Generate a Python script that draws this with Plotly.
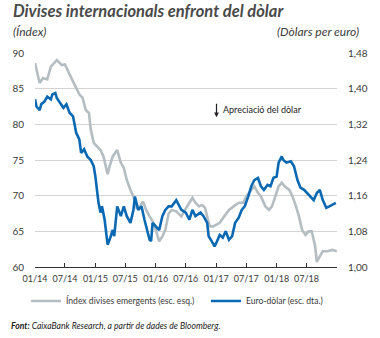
import plotly.graph_objects as go

em_dates = ["2014-01-01","2014-01-29","2014-02-18","2014-03-16","2014-04-07","2014-05-13","2014-06-12","2014-07-01",
"2014-07-29","2014-08-19","2014-09-07","2014-09-26","2014-10-16","2014-11-04","2014-11-23","2014-12-04","2014-12-22",
"2015-01-10","2015-02-01","2015-02-19","2015-03-07","2015-03-16","2015-03-28","2015-04-16","2015-05-13","2015-06-04",
"2015-06-22","2015-07-10","2015-08-01","2015-08-19","2015-09-07","2015-09-28","2015-10-16","2015-11-04","2015-11-25",
"2015-12-13","2016-01-01","2016-01-22","2016-02-10","2016-02-28","2016-03-19","2016-04-07","2016-05-04","2016-06-04",
"2016-07-01","2016-08-10","2016-08-28","2016-09-19","2016-10-07","2016-10-25","2016-11-16","2016-11-25","2016-12-13",
"2017-01-01","2017-01-22","2017-02-18","2017-03-19","2017-04-16","2017-05-16","2017-06-13","2017-07-01","2017-08-01",
"2017-08-19","2017-09-10","2017-09-28","2017-10-25","2017-11-16","2017-12-04","2017-12-22","2018-01-13","2018-02-01",
"2018-02-19","2018-03-19","2018-04-07","2018-04-28","2018-05-16","2018-06-04","2018-06-25","2018-07-13","2018-08-01",
"2018-08-22","2018-09-01","2018-09-19","2018-10-07","2018-11-04","2018-12-04","2018-12-31"]
em_index = [88.6,85.8,86.5,86.3,88.1,89.0,88.3,88.4,
87.0,86.0,84.9,84.2,83.7,82.0,81.6,79.3,77.4,
76.9,76.4,75.5,73.6,73.0,74.1,75.5,76.4,74.6,
73.9,72.2,70.8,69.9,68.3,68.5,69.2,68.0,67.1,
66.4,65.2,63.6,64.3,65.2,67.5,68.0,67.8,67.1,
68.2,69.7,69.0,68.5,68.7,68.3,66.2,65.7,65.7,
65.9,66.2,67.1,68.0,68.5,69.0,69.0,69.9,70.8,
71.3,70.4,69.9,68.5,68.0,68.5,69.9,71.3,71.8,
71.3,70.8,69.9,68.5,67.1,65.2,64.5,65.0,65.0,
62.9,60.7,61.5,62.2,62.2,62.4,62.2]

eur_dates = ["2014-01-01","2014-01-10","2014-01-29","2014-02-08","2014-02-27","2014-03-16","2014-04-07","2014-04-16",
"2014-05-04","2014-05-13","2014-06-02","2014-06-22","2014-07-10","2014-07-29","2014-08-19","2014-09-07","2014-09-26",
"2014-10-07","2014-10-25","2014-11-13","2014-12-04","2014-12-22","2015-01-01","2015-01-10","2015-01-20","2015-02-01",
"2015-02-10","2015-02-26","2015-03-07","2015-03-16","2015-03-28","2015-04-16","2015-04-25","2015-05-13","2015-06-04",
"2015-06-22","2015-07-10","2015-08-01","2015-08-19","2015-08-28","2015-09-17","2015-10-07","2015-10-25","2015-11-04",
"2015-11-25","2015-12-04","2015-12-13","2016-01-01","2016-01-22","2016-02-10","2016-02-28","2016-03-19","2016-04-07",
"2016-05-04","2016-06-04","2016-07-01","2016-07-22","2016-08-10","2016-08-28","2016-09-28","2016-10-16","2016-11-07",
"2016-11-16","2016-12-04","2016-12-22","2017-01-01","2017-01-22","2017-02-09","2017-02-27","2017-03-19","2017-04-07",
"2017-04-25","2017-05-16","2017-06-04","2017-06-22","2017-07-13","2017-08-01","2017-08-19","2017-09-10","2017-09-28",
"2017-10-16","2017-11-07","2017-11-25","2017-12-13","2018-01-01","2018-01-13","2018-02-01","2018-02-10","2018-03-01",
"2018-03-28","2018-04-16","2018-05-07","2018-05-25","2018-06-16","2018-07-04","2018-07-22","2018-08-13","2018-09-01",
"2018-09-19","2018-10-07","2018-10-28","2018-11-16","2018-12-04","2018-12-25"]
eur_usd = [1.376,1.360,1.352,1.365,1.371,1.382,1.376,1.387,
1.390,1.379,1.368,1.357,1.365,1.346,1.338,1.301,1.286,
1.256,1.264,1.248,1.240,1.226,1.203,1.173,1.144,1.122,
1.136,1.106,1.069,1.050,1.061,1.083,1.069,1.136,1.114,
1.136,1.114,1.099,1.128,1.158,1.128,1.136,1.106,1.091,
1.061,1.058,1.099,1.091,1.083,1.114,1.128,1.136,1.136,
1.150,1.128,1.122,1.106,1.128,1.114,1.122,1.114,1.099,
1.069,1.058,1.046,1.054,1.072,1.066,1.080,1.061,1.069,
1.099,1.110,1.128,1.136,1.158,1.181,1.195,1.200,1.181,
1.173,1.184,1.181,1.200,1.203,1.234,1.248,1.240,1.234,
1.237,1.226,1.195,1.178,1.173,1.166,1.158,1.150,1.166,
1.173,1.150,1.133,1.136,1.139,1.144]

x_ticks = ["2014-01-01","2014-07-01","2015-01-01","2015-07-01","2016-01-01","2016-07-01",
           "2017-01-01","2017-07-01","2018-01-01","2018-07-01","2019-01-01"]
x_labels = ["01/14","07/14","01/15","07/15","01/16","07/16","01/17","07/17","01/18","07/18",""]
left_ticks = [60, 65, 70, 75, 80, 85, 90]
right_ticks = [1.00, 1.08, 1.16, 1.24, 1.32, 1.40, 1.48]
right_labels = ["1,00","1,08","1,16","1,24","1,32","1,40","1,48"]

GRAY = "#b4bdc2"
BLUE = "#0a69b2"
TXT = "#3a3a3a"
FONT = "Lato"

fig = go.Figure()
fig.add_trace(go.Scatter(x=em_dates, y=em_index, mode="lines", name="Índex divises emergents (esc. esq.)",
                         line=dict(color=GRAY, width=2.6), yaxis="y", legend="legend"))
fig.add_trace(go.Scatter(x=eur_dates, y=eur_usd, mode="lines", name="Euro-dòlar (esc. dta.)",
                         line=dict(color=BLUE, width=2.6), yaxis="y2", legend="legend2"))

leg_common = dict(orientation="h", y=-0.159, xanchor="left", yanchor="middle",
                  font=dict(size=8.6, color=TXT), itemwidth=30, bgcolor="rgba(0,0,0,0)")

fig.update_layout(
    width=380, height=338,
    margin=dict(l=32, r=32, t=53, b=71),
    paper_bgcolor="white", plot_bgcolor="white",
    font=dict(family=FONT, size=10, color=TXT),
    showlegend=True,
    legend=dict(x=-0.03, **leg_common),
    legend2=dict(x=0.566, **leg_common),
    xaxis=dict(type="date", range=["2014-01-01", "2019-01-01"], tickvals=x_ticks, ticktext=x_labels,
               showgrid=False, showline=True, linecolor="#333333", linewidth=1,
               ticks="inside", ticklen=4, tickcolor="#333333", tickfont=dict(size=9, color=TXT),
               ticklabelstandoff=3, zeroline=False, fixedrange=True),
    yaxis=dict(range=[60, 90], tickvals=left_ticks, showgrid=True, gridcolor="#d4d4d4", gridwidth=1,
               zeroline=False, showline=False, ticks="", tickfont=dict(size=10, color=TXT),
               ticklabelstandoff=10),
    yaxis2=dict(range=[1.00, 1.48], tickvals=right_ticks, ticktext=right_labels, overlaying="y", side="right",
                showgrid=False, zeroline=False, showline=False, ticks="", tickfont=dict(size=10, color=TXT),
                ticklabelstandoff=10),
    annotations=[
        dict(text="<b><i>Divises internacionals enfront del dòlar</i></b>", xref="paper", yref="paper",
             x=-0.078, y=1.194, xanchor="left", yanchor="middle", showarrow=False,
             font=dict(size=16.5, color="#4a4a4a", family=FONT)),
        dict(text="<i>(Índex)</i>", xref="paper", yref="paper", x=-0.08, y=1.1, xanchor="left",
             yanchor="middle", showarrow=False, font=dict(size=12, color=TXT)),
        dict(text="<i>(Dòlars per euro)</i>", xref="paper", yref="paper", x=1.079, y=1.1, xanchor="right",
             yanchor="middle", showarrow=False, font=dict(size=12, color=TXT)),
        dict(text="", xref="paper", yref="paper", x=0.601, y=0.70, ax=0, ay=-15, showarrow=True,
             arrowhead=2, arrowsize=0.8, arrowwidth=1.2, arrowcolor="#222222"),
        dict(text="Apreciació del dòlar", xref="paper", yref="paper", x=0.617, y=0.734, xanchor="left",
             yanchor="middle", showarrow=False, font=dict(size=9, color="#222222")),
        dict(text="<b><i>Font:</i></b><i> CaixaBank Research, a partir de dades de Bloomberg.</i>",
             xref="paper", yref="paper", x=-0.085, y=-0.276, xanchor="left", yanchor="middle",
             showarrow=False, font=dict(size=8.6, color="#222222")),
    ],
)

fig.write_html("out.html")
